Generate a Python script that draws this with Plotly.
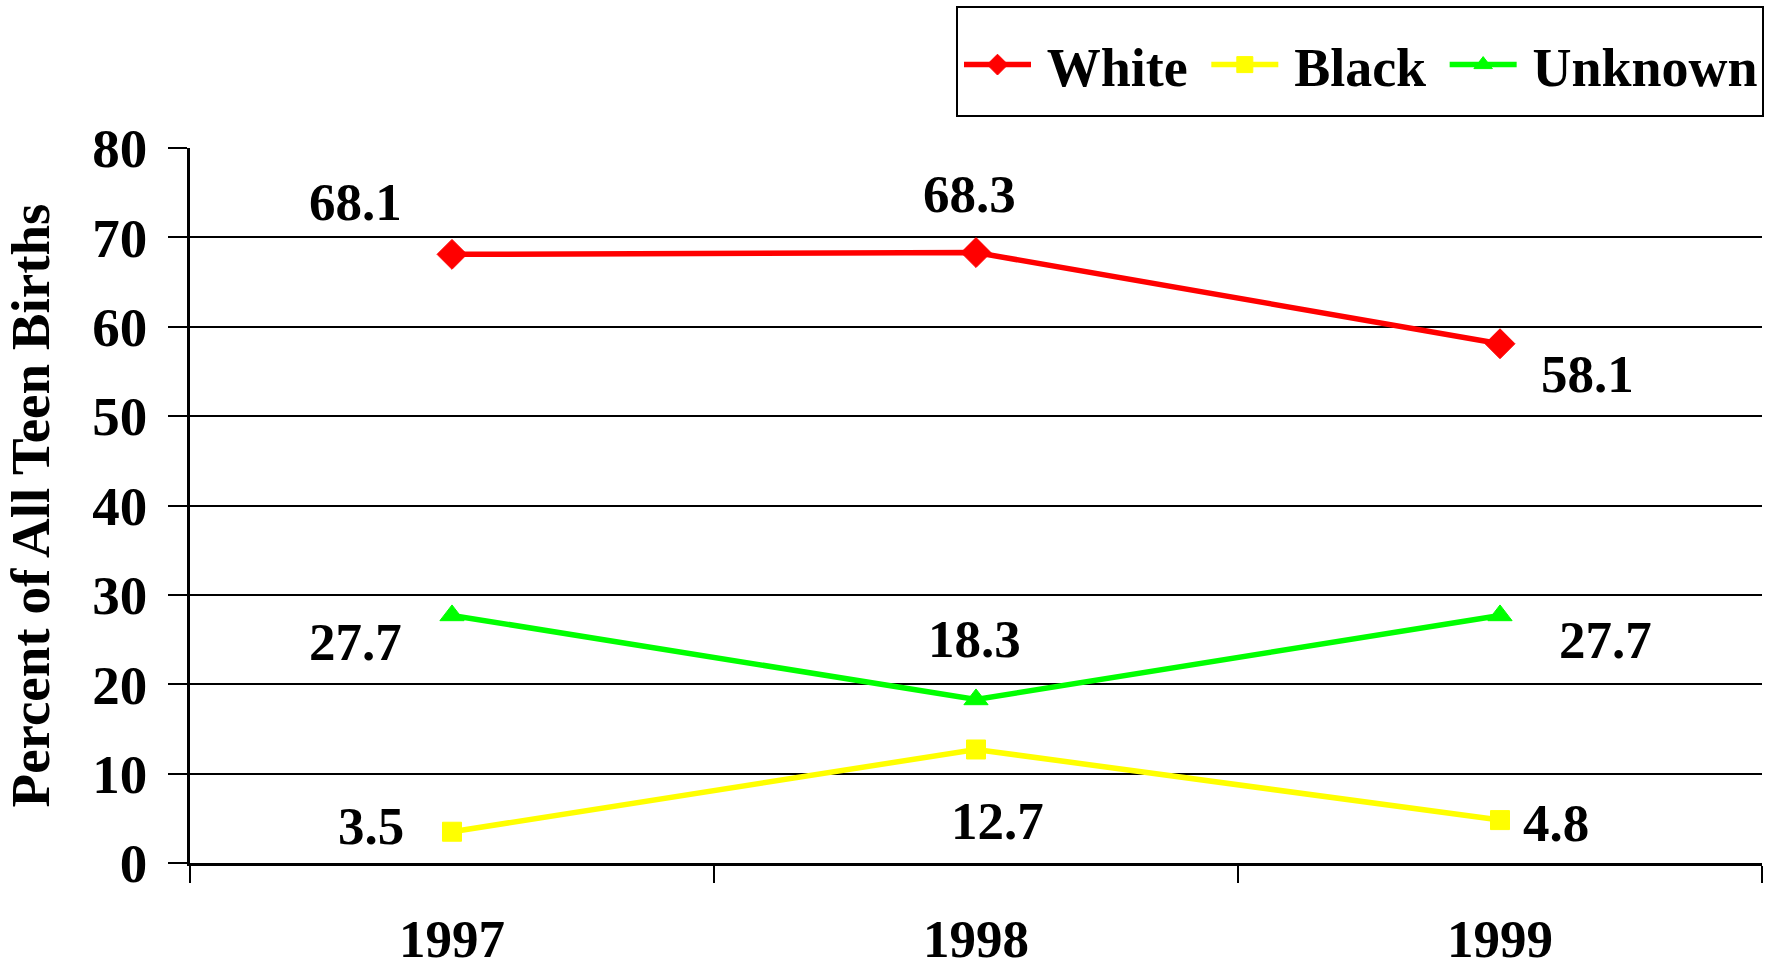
import plotly.graph_objects as go

years = ["1997", "1998", "1999"]
white = [68.1, 68.3, 58.1]
black = [3.5, 12.7, 4.8]
unknown = [27.7, 18.3, 27.7]
y_ticks = [0, 10, 20, 30, 40, 50, 60, 70, 80]

FONT = "Liberation Serif"
FS = 53

series = [
    ("White", white, "#FF0000", "diamond", 23, [(-97, 52), (-7, 59), (87, -30)], " "),
    ("Black", black, "#FFFF00", "square", 19, [(-81, 6), (21, -72), (56, -3)], " "),
    ("Unknown", unknown, "#00FF00", "triangle-up", 21, [(-97, -27), (-2, 60), (105, -25)], ""),
]

fig = go.Figure()
annotations = []
for name, vals, color, sym, msize, offs, tail in series:
    fig.add_trace(go.Scatter(
        x=years, y=vals, name=f"\u2009<b>{name}</b>{tail}", mode="lines+markers",
        line=dict(color=color, width=5.5),
        marker=dict(symbol=sym, size=msize, color=color, line=dict(color=color, width=1)),
    ))
    for i, (yv, (dx, dy)) in enumerate(zip(vals, offs)):
        annotations.append(dict(
            x=i, y=yv, xref="x", yref="y", text=f"<b>{yv}</b>", showarrow=False,
            xshift=dx, yshift=dy, font=dict(family=FONT, size=FS, color="black"),
        ))

fig.update_layout(
    width=1767, height=970,
    margin=dict(l=190, r=5, t=148, b=107, autoexpand=False),
    paper_bgcolor="white", plot_bgcolor="white",
    font=dict(family=FONT, size=FS, color="black"),
    annotations=annotations,
    shapes=[dict(type="rect", xref="paper", yref="paper",
                 x0=(957 - 190) / 1572, x1=(1763 - 190) / 1572,
                 y0=(863 - 116) / 715, y1=(863 - 7) / 715,
                 line=dict(color="black", width=2), fillcolor="white", layer="below")],
    showlegend=True,
    legend=dict(
        orientation="h", xref="container", x=1763 / 1767, xanchor="right",
        yref="container", y=1 - 65 / 970, yanchor="middle",
        bgcolor="rgba(0,0,0,0)", borderwidth=0,
        font=dict(family=FONT, size=54, color="black"),
        itemwidth=67, tracegroupgap=0,
    ),
    xaxis=dict(
        type="category", range=[-0.5, 2.5], tickson="boundaries",
        showgrid=False, showline=True, linecolor="black", linewidth=3,
        ticks="outside", ticklen=17, tickwidth=1.5, tickcolor="black",
        tickfont=dict(family=FONT, size=FS, color="black"),
        ticklabelstandoff=27, fixedrange=True, automargin=False,
        tickvals=years, ticktext=[f"<b>{y}</b>" for y in years],
    ),
    yaxis=dict(
        range=[0, 80], tickvals=y_ticks, ticktext=[f"<b>{t}</b>" for t in y_ticks],
        showgrid=True, gridcolor="black", gridwidth=1.5,
        showline=True, linecolor="black", linewidth=2.5,
        ticks="outside", ticklen=19, tickwidth=1.5, tickcolor="black",
        tickfont=dict(family=FONT, size=55, color="black"),
        ticklabelstandoff=10, zeroline=False, automargin=False, fixedrange=True,
        title=dict(text="<b>Percent of All Teen Births</b>", standoff=30,
                   font=dict(family=FONT, size=55, color="black")),
    ),
)

fig.write_html(
    "out.html",
    config={"displayModeBar": False},
    post_script="document.body.style.margin='0';document.body.style.overflow='hidden';",
)
